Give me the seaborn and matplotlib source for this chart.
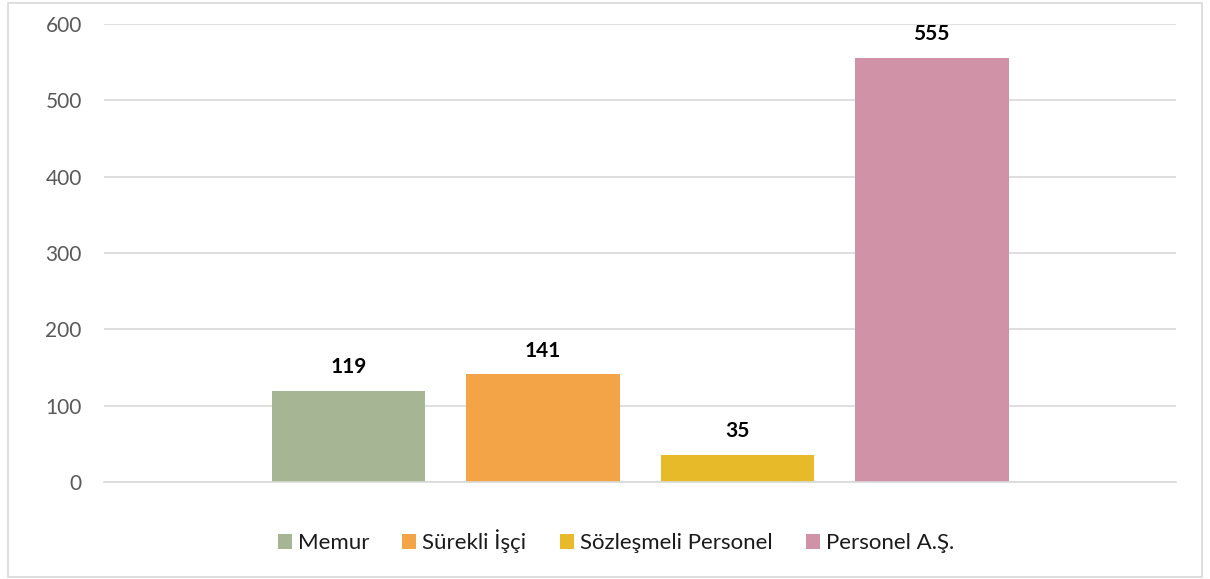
import matplotlib.pyplot as plt
import seaborn as sns
import pandas as pd
from matplotlib.patches import Patch, Rectangle

series = ["Memur", "Sürekli İşçi", "Sözleşmeli Personel", "Personel A.Ş."]
values = [119, 141, 35, 555]
colors = ["#A6B593", "#F2A446", "#E6BA28", "#D092A6"]
y_ticks = [0, 100, 200, 300, 400, 500, 600]

df = pd.DataFrame({"series": series, "value": values})

sns.set_theme(style="white")
plt.rcParams["font.family"] = ["Lato", "DejaVu Sans"]

fig = plt.figure(figsize=(12.1, 5.79), dpi=100)
ax = fig.add_axes([0.086, 0.1675, 0.886, 0.791])

sns.barplot(
    data=df, x="series", y="value", hue="series", palette=colors,
    width=0.79, legend=False, ax=ax, saturation=1, errorbar=None, linewidth=0,
)

ax.set_xlim(-1.257, 4.257)
ax.set_ylim(0, 600)
ax.set_yticks(y_ticks)
ax.set_yticklabels([str(t) for t in y_ticks], color="#595959", fontsize=15)
ax.set_xticks([])
ax.set_xlabel("")
ax.set_ylabel("")
ax.tick_params(axis="y", length=0, pad=16)
ax.yaxis.grid(True, color="#D9D9D9", linewidth=1.2)
ax.set_axisbelow(True)
for name, spine in ax.spines.items():
    spine.set_visible(name == "bottom")
ax.spines["bottom"].set_color("#D9D9D9")
ax.spines["bottom"].set_linewidth(1.2)

for cont in ax.containers:
    ax.bar_label(cont, padding=10, fontsize=15, fontweight="bold", color="#000000")

handles = [Patch(facecolor=c, edgecolor="none") for c in colors]
fig.legend(
    handles, series, loc="center", bbox_to_anchor=(0.509, 0.065), ncol=4,
    frameon=False, fontsize=16, handlelength=0.63, handleheight=0.63,
    handletextpad=0.27, columnspacing=1.5, labelcolor="#1a1a1a",
)

fig.patches.append(Rectangle((0.007, 0.004), 0.986, 0.99, transform=fig.transFigure,
                             fill=False, edgecolor="#D9D9D9", linewidth=1.2))

fig.savefig("out.png", dpi=100)
